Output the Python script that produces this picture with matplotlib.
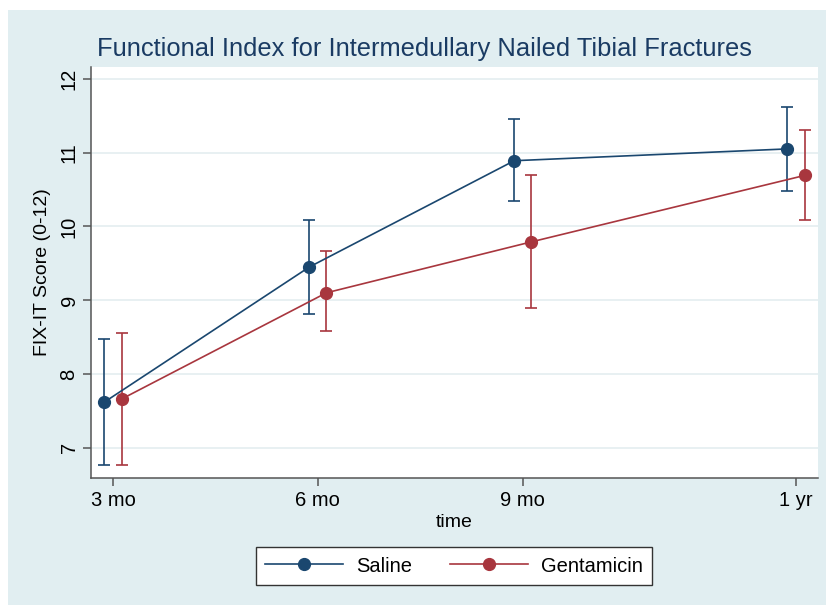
import matplotlib.pyplot as plt
from matplotlib.patches import Rectangle
from matplotlib.lines import Line2D

# data (weeks after surgery)
weeks = [12, 24, 36, 52]
tick_labels = ['3 mo', '6 mo', '9 mo', '1 yr']

saline_mean = [7.62, 9.45, 10.89, 11.05]
saline_lo = [6.77, 8.81, 10.34, 10.48]
saline_hi = [8.47, 10.08, 11.45, 11.62]

gent_mean = [7.66, 9.10, 9.79, 10.69]
gent_lo = [6.76, 8.58, 8.90, 10.09]
gent_hi = [8.55, 9.66, 10.69, 11.30]

offset = 0.5  # small dodge so the bars don't overlap

plt.rcParams['font.family'] = ['Liberation Sans', 'DejaVu Sans']

W, H = 826, 605
bg = '#e1eef1'
fig = plt.figure(figsize=(W / 100, H / 100), dpi=100, facecolor=bg)
# thin white strips at left and top like the screenshot
fig.patches.append(Rectangle((0, 0), 8 / W, 1, transform=fig.transFigure,
                             facecolor='white', edgecolor='none', zorder=-5))
fig.patches.append(Rectangle((0, (H - 10) / H), 1, 10 / H, transform=fig.transFigure,
                             facecolor='white', edgecolor='none', zorder=-5))

ax = fig.add_axes([91 / W, (H - 478) / H, (818 - 91) / W, (478 - 67) / H])
ax.set_facecolor('white')

blue = '#1a476f'
red = '#a8363e'


def err(mean, lo, hi):
    return [[m - l for m, l in zip(mean, lo)], [h - m for m, h in zip(mean, hi)]]


xs = [w - offset for w in weeks]
xg = [w + offset for w in weeks]
ax.errorbar(xs, saline_mean, yerr=err(saline_mean, saline_lo, saline_hi),
            color=blue, marker='o', ms=8.5, lw=1.2, elinewidth=1.2, capsize=4,
            capthick=1.2, zorder=3)
ax.errorbar(xg, gent_mean, yerr=err(gent_mean, gent_lo, gent_hi),
            color=red, marker='o', ms=8.5, lw=1.2, elinewidth=1.2, capsize=4,
            capthick=1.2, zorder=3)

ax.set_xlim(10.71, 53.29)
ax.set_ylim(6.59, 12.16)
ax.set_xticks(weeks)
ax.set_xticklabels(tick_labels, fontsize=14.5)
ax.set_yticks([7, 8, 9, 10, 11, 12])
ax.set_yticklabels(['7', '8', '9', '10', '11', '12'], fontsize=14.5, rotation=90, va='center')
ax.grid(axis='y', color='#e6eff1', lw=1.3)
ax.set_axisbelow(True)
for s in ['top', 'right']:
    ax.spines[s].set_visible(False)
for s in ['left', 'bottom']:
    ax.spines[s].set_color('#555555')
    ax.spines[s].set_linewidth(1.1)
ax.tick_params(colors='#555555', labelcolor='black', length=6, width=1.1, pad=3)

ax.set_xlabel('time', fontsize=14, labelpad=3)
ax.set_ylabel('FIX-IT Score (0-12)', fontsize=14, labelpad=6)

fig.text(97 / W, (H - 56) / H, 'Functional Index for Intermedullary Nailed Tibial Fractures',
         fontsize=18.4, color='#1a3b63', ha='left', va='baseline')

handles = [Line2D([], [], color=blue, marker='o', ms=8.5, lw=1.2),
           Line2D([], [], color=red, marker='o', ms=8.5, lw=1.2)]
leg = fig.legend(handles, ['Saline', 'Gentamicin'], loc='center',
                 bbox_to_anchor=(454 / W, (H - 566) / H), ncol=2,
                 fontsize=14.5, frameon=True, fancybox=False, edgecolor='#333333',
                 framealpha=1, handlelength=3.85, handletextpad=0.65,
                 columnspacing=1.9, borderpad=0.45, borderaxespad=0)
leg.get_frame().set_linewidth(1.0)

fig.savefig('out.png', dpi=100, facecolor=fig.get_facecolor())
